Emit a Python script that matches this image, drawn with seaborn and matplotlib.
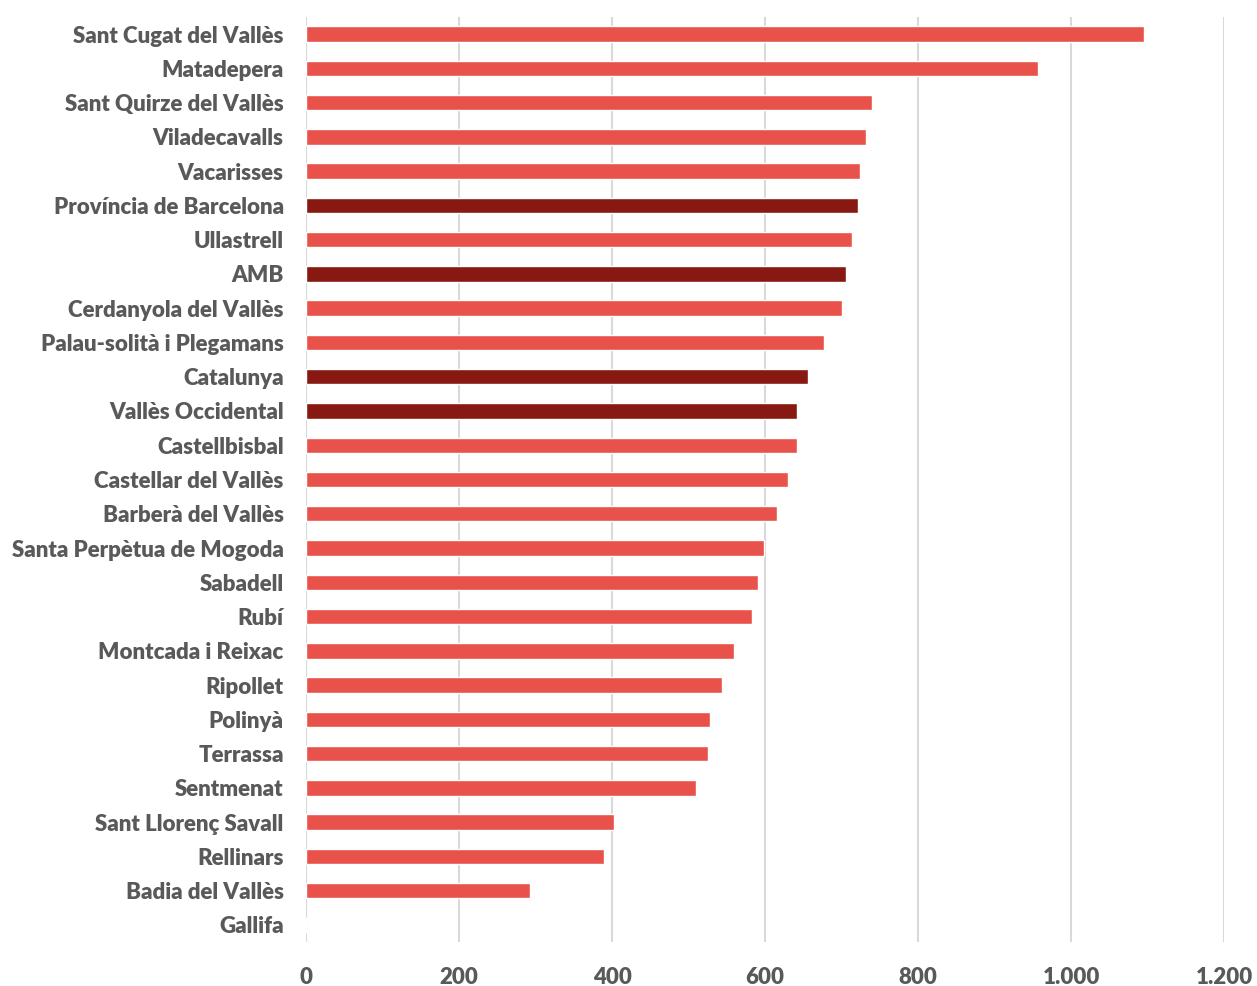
import pandas as pd
import seaborn as sns
import matplotlib.pyplot as plt
from matplotlib.ticker import FuncFormatter

municipis = [
    "Sant Cugat del Vallès", "Matadepera", "Sant Quirze del Vallès", "Viladecavalls",
    "Vacarisses", "Província de Barcelona", "Ullastrell", "AMB",
    "Cerdanyola del Vallès", "Palau-solità i Plegamans", "Catalunya", "Vallès Occidental",
    "Castellbisbal", "Castellar del Vallès", "Barberà del Vallès", "Santa Perpètua de Mogoda",
    "Sabadell", "Rubí", "Montcada i Reixac", "Ripollet", "Polinyà", "Terrassa",
    "Sentmenat", "Sant Llorenç Savall", "Rellinars", "Badia del Vallès", "Gallifa",
]
valors = [
    1095, 956, 739, 732, 724, 721, 714, 706, 700, 677, 656, 641,
    641, 630, 615, 598, 591, 583, 559, 544, 528, 525, 510, 402, 390, 293, 0,
]
agregats = ["Província de Barcelona", "AMB", "Catalunya", "Vallès Occidental"]

df = pd.DataFrame({"municipi": municipis, "valor": valors})
df["tipus"] = ["agregat" if m in agregats else "municipi" for m in df["municipi"]]

sns.set_style("white")
plt.rcParams["font.family"] = ["Lato", "DejaVu Sans"]

fig = plt.figure(figsize=(12.57, 9.86), dpi=100)
ax = fig.add_axes([0.2434, 0.0446, 0.7306, 0.9382])

colors = {"municipi": "#E9524A", "agregat": "#871812"}
sns.barplot(data=df, x="valor", y="municipi", hue="tipus", palette=colors,
            orient="h", width=0.45, dodge=False, legend=False, saturation=1, ax=ax)

ax.set_xlim(0, 1200)
ax.set_ylim(len(municipis) - 0.5, -0.5)
ax.set_xticks(range(0, 1201, 200))
ax.xaxis.set_major_formatter(FuncFormatter(lambda v, p: f"{int(v):,}".replace(",", ".")))
ax.grid(axis="x", color="#D9D9D9", linewidth=1.5)
ax.set_axisbelow(True)
for s in ax.spines.values():
    s.set_visible(False)
ax.tick_params(axis="both", length=0)
ax.tick_params(axis="y", pad=16)
ax.tick_params(axis="x", pad=18)
for lab in ax.get_yticklabels() + ax.get_xticklabels():
    lab.set_fontsize(16)
    lab.set_fontweight("heavy")
    lab.set_color("#595959")
ax.set_xlabel("")
ax.set_ylabel("")

plt.savefig("out.png", dpi=100)
